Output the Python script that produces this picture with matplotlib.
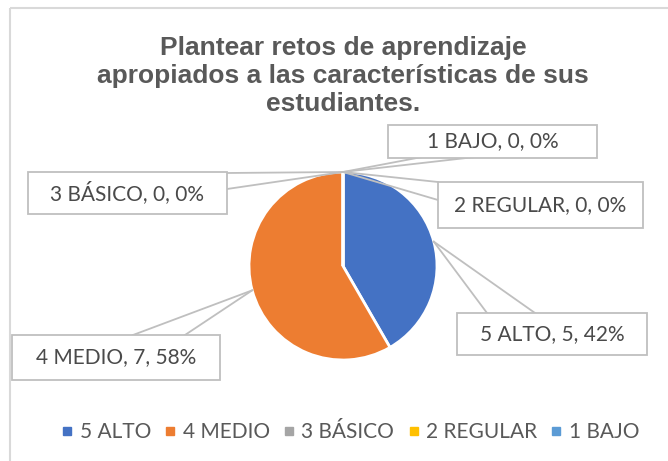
import matplotlib
matplotlib.use("Agg")
import matplotlib.pyplot as plt
import matplotlib.patches as mpatches
from matplotlib.lines import Line2D
import numpy as np

# data
categories = ["5 ALTO", "4 MEDIO", "3 BÁSICO", "2 REGULAR", "1 BAJO"]
values = [5, 7, 0, 0, 0]
colors = ["#4472C4", "#ED7D31", "#A5A5A5", "#FFC000", "#5B9BD5"]
title = "Plantear retos de aprendizaje\napropiados a las características de sus\nestudiantes."

W, H = 668, 461

# label boxes (pixel coords, y down): x0, x1, y0, y1 and two leader attach points
boxes = {
    "5 ALTO": ((457, 647, 313, 355), [(487, 313), (535, 313)]),
    "4 MEDIO": ((12, 220, 335, 380), [(133, 335), (185, 335)]),
    "3 BÁSICO": ((28, 227, 172, 214), [(227, 173), (227, 189)]),
    "2 REGULAR": ((438, 643, 182, 228), [(438, 182), (438, 200)]),
    "1 BAJO": ((388, 597, 125, 158), [(422, 157), (475, 157)]),
}


def Y(y):
    return H - y


fig = plt.figure(figsize=(W / 100, H / 100), dpi=100)
ax = fig.add_axes([0, 0, 1, 1])

# chart frame (only top and left visible)
ax.plot([10, W], [Y(8), Y(8)], color="#D9D9D9", lw=1.5, solid_capstyle="butt")
ax.plot([10, 10], [Y(8), 0], color="#D9D9D9", lw=1.5, solid_capstyle="butt")

ax.text(343, Y(76), title, ha="center", va="center", fontsize=19,
        fontweight="bold", color="#595959", family="Liberation Sans",
        linespacing=1.22)

cx, cy, r = 343, Y(266), 94
wedges, _ = ax.pie(values, colors=colors, startangle=90, counterclock=False,
                   center=(cx, cy), radius=r, frame=True,
                   wedgeprops=dict(edgecolor="white", linewidth=2))
ax.set_xlim(0, W)
ax.set_ylim(0, H)
ax.set_aspect("equal")
ax.axis("off")

total = sum(values)
for w, cat, val in zip(wedges, categories, values):
    mid = np.deg2rad((w.theta1 + w.theta2) / 2)
    ax_pt = (cx + r * np.cos(mid), cy + r * np.sin(mid))
    (x0, x1, y0, y1), attach = boxes[cat]
    for px, py in attach:
        ax.plot([ax_pt[0], px], [ax_pt[1], Y(py)], color="#BFBFBF", lw=1.3, zorder=3)
    rect = mpatches.Rectangle((x0, Y(y1)), x1 - x0, y1 - y0, facecolor="white",
                              edgecolor="#BFBFBF", lw=1.3, zorder=4)
    ax.add_patch(rect)
    pct = 100 * val / total
    ax.text((x0 + x1) / 2, Y((y0 + y1) / 2), f"{cat}, {val}, {pct:.0f}%",
            ha="center", va="center", fontsize=15, color="#4A4A4A",
            family="Lato", zorder=5)

handles = [Line2D([], [], marker="s", linestyle="", markersize=6,
                  markerfacecolor=c, markeredgecolor=c) for c in colors]
ax.legend(handles, categories, loc="center", bbox_to_anchor=(348 / W, 1 - 432 / H),
          ncol=5, frameon=False, handletextpad=0.1, columnspacing=0.42,
          handlelength=1.0, prop=dict(family="Lato", size=15),
          labelcolor="#595959")

fig.savefig("out.png", dpi=100)
